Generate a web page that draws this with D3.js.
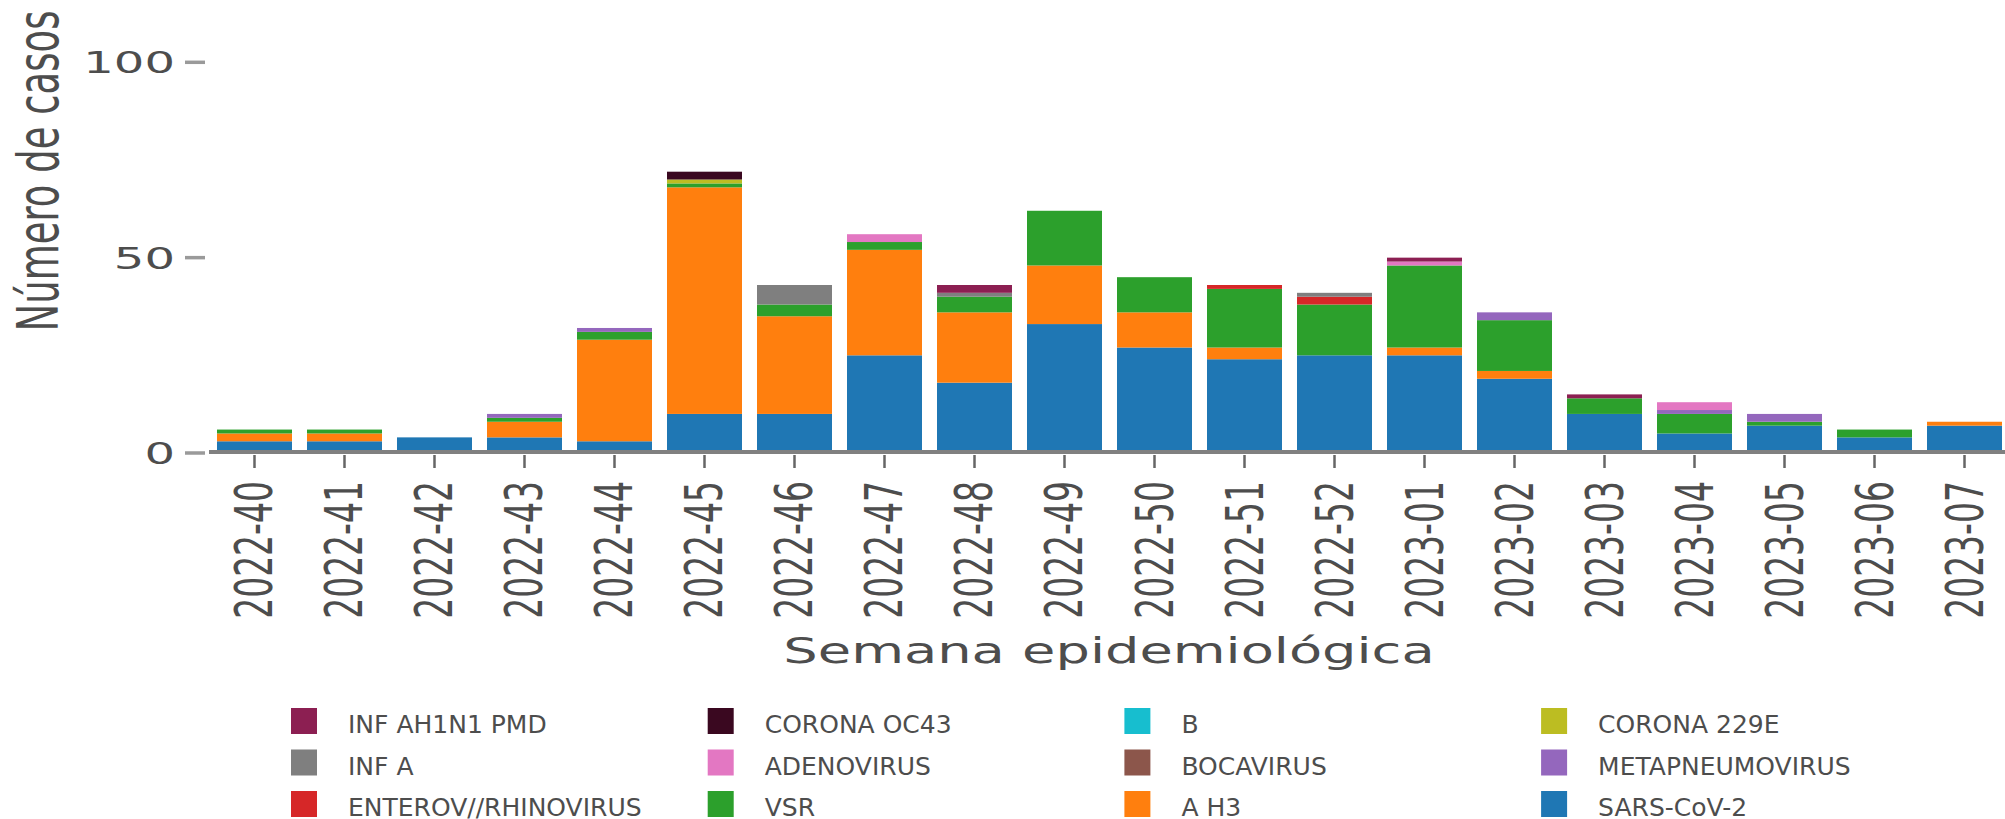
<!DOCTYPE html>
<html lang="es">
<head>
<meta charset="utf-8">
<script src="https://cdn.jsdelivr.net/npm/d3@7"></script>
<style>
    body { margin: 0; background: #fff; }
    #chart-area { width: 2005px; height: 819px; }
    text { font-family: "DejaVu Sans", Verdana, sans-serif; fill: #4d4d4d; }
</style>
</head>
<body>
<div id="chart-area"></div>
<script>
/* * * * * * * * * * * * * * * * *
 *  Casos por semana epidemiológica *
 * * * * * * * * * * * * * * * * */

// Semanas epidemiológicas (eje x)
const weeks = ["2022-40", "2022-41", "2022-42", "2022-43", "2022-44", "2022-45", "2022-46",
    "2022-47", "2022-48", "2022-49", "2022-50", "2022-51", "2022-52", "2023-01",
    "2023-02", "2023-03", "2023-04", "2023-05", "2023-06", "2023-07"];

// Número de casos por virus, una entrada por semana
const sarsCov2     = [3, 3, 4, 4, 3, 10, 10, 25, 18, 33, 27, 24, 25, 25, 19, 10, 5, 7, 4, 7];
const aH3          = [2, 2, 0, 4, 26, 58, 25, 27, 18, 15, 9, 3, 0, 2, 2, 0, 0, 0, 0, 1];
const vsr          = [1, 1, 0, 1, 2, 1, 3, 2, 4, 14, 9, 15, 13, 21, 13, 4, 5, 1, 2, 0];
const enterovRhino = [0, 0, 0, 0, 0, 0, 0, 0, 0, 0, 0, 1, 2, 0, 0, 0, 0, 0, 0, 0];
const metapneumo   = [0, 0, 0, 1, 1, 0, 0, 0, 0, 0, 0, 0, 0, 0, 2, 0, 1, 2, 0, 0];
const bocavirus    = [0, 0, 0, 0, 0, 0, 0, 0, 0, 0, 0, 0, 0, 0, 0, 0, 0, 0, 0, 0];
const adenovirus   = [0, 0, 0, 0, 0, 0, 0, 2, 0, 0, 0, 0, 0, 1, 0, 0, 2, 0, 0, 0];
const infA         = [0, 0, 0, 0, 0, 0, 5, 0, 1, 0, 0, 0, 1, 0, 0, 0, 0, 0, 0, 0];
const corona229E   = [0, 0, 0, 0, 0, 1, 0, 0, 0, 0, 0, 0, 0, 0, 0, 0, 0, 0, 0, 0];
const infB         = [0, 0, 0, 0, 0, 0, 0, 0, 0, 0, 0, 0, 0, 0, 0, 0, 0, 0, 0, 0];
const coronaOC43   = [0, 0, 0, 0, 0, 2, 0, 0, 0, 0, 0, 0, 0, 0, 0, 0, 0, 0, 0, 0];
const infAH1N1     = [0, 0, 0, 0, 0, 0, 0, 0, 2, 0, 0, 0, 0, 1, 0, 1, 0, 0, 0, 0];

// Orden de apilado (de abajo hacia arriba)
const seriesNames = ["SARS-CoV-2", "A H3", "VSR", "ENTEROV//RHINOVIRUS", "METAPNEUMOVIRUS",
    "BOCAVIRUS", "ADENOVIRUS", "INF A", "CORONA 229E", "B", "CORONA OC43", "INF AH1N1 PMD"];
const seriesValues = [sarsCov2, aH3, vsr, enterovRhino, metapneumo, bocavirus,
    adenovirus, infA, corona229E, infB, coronaOC43, infAH1N1];
const seriesColors = ["#1f77b4", "#ff7f0e", "#2ca02c", "#d62728", "#9467bd", "#8c564b",
    "#e377c2", "#7f7f7f", "#bcbd22", "#17becf", "#3a0820", "#8c1f52"];

// Orden de la leyenda (por filas)
const legendOrder = ["INF AH1N1 PMD", "CORONA OC43", "B", "CORONA 229E",
    "INF A", "ADENOVIRUS", "BOCAVIRUS", "METAPNEUMOVIRUS",
    "ENTEROV//RHINOVIRUS", "VSR", "A H3", "SARS-CoV-2"];

const yTicks = [0, 50, 100];

class CasesChart {
    constructor(parentElement) {
        this.parentElement = parentElement;
        this.initVis();
    }

    initVis() {
        let vis = this;

        vis.width = 2005;
        vis.height = 819;
        // the original plot is stretched sideways, text included
        vis.stretch = 1.55;

        vis.svg = d3.select(`#${vis.parentElement}`).append("svg")
            .attr("width", vis.width)
            .attr("height", vis.height);

        // Scales
        vis.x = d3.scaleBand()
            .domain(weeks)
            .range([209.5, 2009.5])
            .paddingInner(0.1667)
            .paddingOuter(0.0833);

        vis.y = d3.scaleLinear()
            .domain([0, 100])
            .range([453, 62.3]);

        vis.color = d3.scaleOrdinal()
            .domain(seriesNames)
            .range(seriesColors);

        vis.wrangleData();
    }

    wrangleData() {
        let vis = this;

        vis.table = weeks.map((w, i) => {
            let row = { week: w };
            seriesNames.forEach((name, j) => row[name] = seriesValues[j][i]);
            return row;
        });

        vis.stacked = d3.stack().keys(seriesNames)(vis.table);

        vis.updateVis();
    }

    updateVis() {
        let vis = this;
        let k = vis.stretch;

        // Bars
        let layers = vis.svg.append("g").attr("class", "bars")
            .selectAll("g")
            .data(vis.stacked)
            .enter()
            .append("g")
            .attr("fill", d => vis.color(d.key));

        layers.selectAll("rect")
            .data(d => d.filter(s => s[1] - s[0] > 0))
            .enter()
            .append("rect")
            .attr("x", d => vis.x(d.data.week))
            .attr("width", vis.x.bandwidth())
            .attr("y", d => vis.y(d[1]))
            .attr("height", d => vis.y(d[0]) - vis.y(d[1]));

        // x axis line and ticks
        vis.svg.append("line")
            .attr("x1", 209).attr("x2", vis.width)
            .attr("y1", 452).attr("y2", 452)
            .attr("stroke", "#808080")
            .attr("stroke-width", 4);

        let xTicks = vis.svg.append("g").attr("class", "x-ticks")
            .selectAll("g")
            .data(weeks)
            .enter()
            .append("g");

        xTicks.append("line")
            .attr("x1", d => vis.x(d) + vis.x.bandwidth() / 2)
            .attr("x2", d => vis.x(d) + vis.x.bandwidth() / 2)
            .attr("y1", 455).attr("y2", 468)
            .attr("stroke", "#666")
            .attr("stroke-width", 2.5);

        xTicks.append("text")
            .attr("transform", d => `translate(${vis.x(d) + vis.x.bandwidth() / 2 + 18}, 481) scale(${k},1) rotate(-90)`)
            .attr("text-anchor", "end")
            .attr("font-size", 33)
            .text(d => d);

        // y ticks (no axis line)
        let yAxis = vis.svg.append("g").attr("class", "y-ticks")
            .selectAll("g")
            .data(yTicks)
            .enter()
            .append("g");

        yAxis.append("line")
            .attr("x1", 185).attr("x2", 205)
            .attr("y1", d => vis.y(d)).attr("y2", d => vis.y(d))
            .attr("stroke", "#9a9a9a")
            .attr("stroke-width", 3.5);

        yAxis.append("text")
            .attr("transform", d => `translate(175, ${vis.y(d)}) scale(${k},1)`)
            .attr("text-anchor", "end")
            .attr("dy", "0.36em")
            .attr("font-size", 31)
            .text(d => d);

        // Axis titles
        vis.svg.append("text")
            .attr("transform", `translate(1109, 663) scale(${k},1)`)
            .attr("text-anchor", "middle")
            .attr("font-size", 35)
            .text("Semana epidemiológica");

        vis.svg.append("text")
            .attr("transform", `translate(58, 171) scale(${k},1) rotate(-90)`)
            .attr("text-anchor", "middle")
            .attr("font-size", 37)
            .text("Número de casos");

        // Legend, 4 columns x 3 rows
        let legend = vis.svg.append("g").attr("class", "legend")
            .selectAll("g")
            .data(legendOrder)
            .enter()
            .append("g")
            .attr("transform", (d, i) => `translate(${291 + (i % 4) * 416.7}, ${708 + Math.floor(i / 4) * 41.5})`);

        legend.append("rect")
            .attr("width", 26)
            .attr("height", 26)
            .attr("fill", d => vis.color(d));

        legend.append("text")
            .attr("x", 57)
            .attr("y", 25)
            .attr("font-size", 25)
            .text(d => d);
    }
}

new CasesChart("chart-area");
</script>
</body>
</html>
